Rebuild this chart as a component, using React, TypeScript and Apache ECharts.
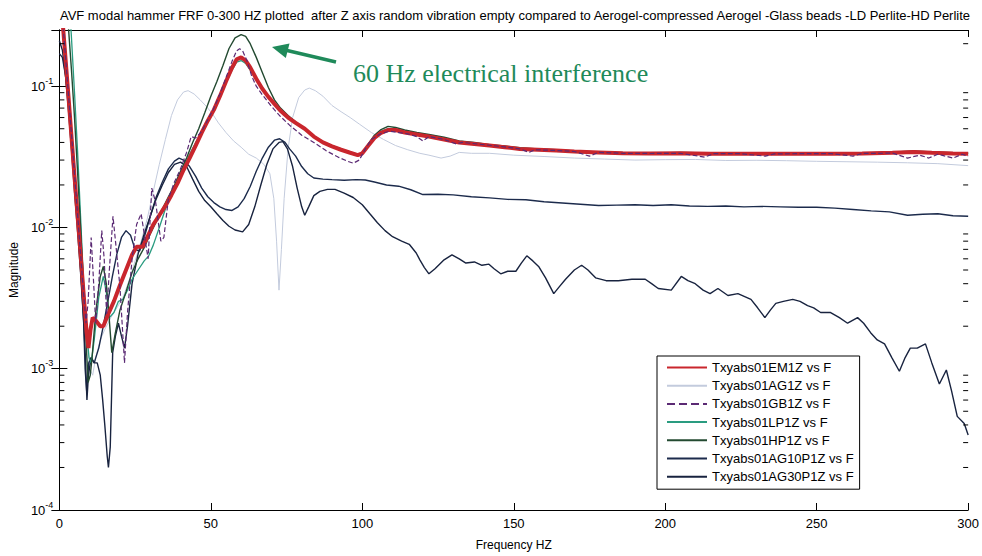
import React, { useEffect, useRef } from 'react';
import * as echarts from 'echarts';

const FONT = "'Liberation Sans', Arial, Helvetica, sans-serif";

const titleText =
  'AVF modal hammer FRF 0-300 HZ plotted  after Z axis random vibration empty compared to Aerogel-compressed Aerogel -Glass beads -LD Perlite-HD Perlite';
const annotationText = '60 Hz electrical interference';
const xName = 'Frequency HZ';
const yName = 'Magnitude';

const seriesNames = [
  'Txyabs01EM1Z vs F',
  'Txyabs01AG1Z vs F',
  'Txyabs01GB1Z vs F',
  'Txyabs01LP1Z vs F',
  'Txyabs01HP1Z vs F',
  'Txyabs01AG10P1Z vs F',
  'Txyabs01AG30P1Z vs F',
];

const xTicks = { min: 0, max: 300, interval: 50 };
const yRange = { min: 0.0001, max: 0.25 };
const minorTickValues = [
  0.0002, 0.0003, 0.0004, 0.0005, 0.0006, 0.0007, 0.0008, 0.0009,
  0.002, 0.003, 0.004, 0.005, 0.006, 0.007, 0.008, 0.009,
  0.02, 0.03, 0.04, 0.05, 0.06, 0.07, 0.08, 0.09,
  0.2,
];

const em1z: [number, number][] = [
  [0, 0.57], [1, 0.30], [2, 0.16], [3, 0.085], [4, 0.044], [5, 0.023], [6, 0.0122], [7, 0.0065], [8, 0.0034], [9, 0.0018],
  [9.6, 0.0014], [10.3, 0.0019], [11, 0.0023], [12, 0.0022], [13.5, 0.0020], [14.5, 0.0020], [16, 0.0024], [18, 0.0030],
  [20, 0.0039], [22, 0.0050], [24, 0.0064], [25.5, 0.0073], [27.5, 0.0073], [29, 0.0085], [31, 0.0105], [33, 0.0122],
  [35, 0.0142], [37, 0.0170], [39, 0.0205], [41, 0.0255], [43, 0.031], [45, 0.038], [47, 0.047], [49, 0.057], [51, 0.068],
  [53, 0.085], [55, 0.108], [57, 0.135], [58.5, 0.155], [60, 0.160], [61.5, 0.152], [63, 0.136], [65, 0.113], [67, 0.096],
  [69, 0.084], [71, 0.075], [73, 0.067], [75.5, 0.060], [78, 0.055], [81, 0.050], [84, 0.044], [87, 0.040], [90, 0.0375],
  [93, 0.0355], [96, 0.0338], [98.5, 0.0325], [100, 0.0335], [102, 0.038], [104, 0.043], [106, 0.0465], [108.5, 0.049],
  [111, 0.049], [114, 0.047], [118, 0.0455], [122, 0.044], [127, 0.042], [132, 0.040], [137, 0.039], [142, 0.038],
  [147, 0.037], [152, 0.036], [158, 0.0355], [164, 0.035], [170, 0.0345], [178, 0.034], [186, 0.0335], [195, 0.0334],
  [205, 0.0335], [215, 0.0333], [225, 0.0333], [235, 0.0332], [245, 0.0333], [255, 0.0333], [265, 0.0334], [275, 0.0338],
  [282, 0.0342], [288, 0.0338], [295, 0.0334], [300, 0.0332],
];

const ag1z: [number, number][] = [
  [0, 0.5], [1, 0.33], [2, 0.19], [3, 0.10], [4, 0.052], [5, 0.027], [6, 0.014], [7, 0.0072], [8, 0.0036], [9, 0.0018],
  [10, 0.0010], [11, 0.0009], [12, 0.0012], [13.5, 0.0016], [15, 0.0019], [17, 0.0023], [19, 0.0027], [21, 0.0032],
  [23, 0.0042], [25, 0.0058], [27, 0.0080], [29, 0.0115], [31, 0.018], [33, 0.028], [35, 0.042], [37, 0.062], [39, 0.080],
  [41, 0.091], [42.5, 0.093], [44.5, 0.088], [46.5, 0.080], [48.5, 0.072], [50.5, 0.064], [52.5, 0.055], [55, 0.047],
  [57.5, 0.041], [60, 0.037], [62.5, 0.033], [65, 0.031], [67.5, 0.028], [69.5, 0.024], [70.8, 0.016], [71.7, 0.008],
  [72.5, 0.0036], [73.3, 0.007], [74.2, 0.016], [75.5, 0.036], [77, 0.060], [79, 0.083], [81, 0.094], [82.5, 0.097],
  [84.5, 0.093], [87, 0.085], [90, 0.073], [93, 0.066], [96, 0.060], [99, 0.054], [103, 0.047], [107, 0.042], [111, 0.038],
  [115, 0.0355], [119, 0.0335], [122, 0.0325], [126, 0.031], [129, 0.032], [132, 0.034], [136, 0.0335], [142, 0.0335],
  [150, 0.0325], [160, 0.0318], [170, 0.031], [180, 0.0305], [190, 0.030], [200, 0.0302], [210, 0.0303], [220, 0.0298],
  [230, 0.0299], [240, 0.0297], [250, 0.0294], [260, 0.0292], [270, 0.029], [280, 0.0287], [290, 0.0283], [300, 0.0274],
];

const gb1z: [number, number][] = [
  [0, 0.6], [1, 0.31], [2, 0.165], [3, 0.088], [4, 0.046], [5, 0.024], [6, 0.0125], [7, 0.0065], [8, 0.0034], [8.8, 0.0021],
  [9.5, 0.0030], [10.5, 0.0085], [11.2, 0.0045], [12, 0.0021], [13, 0.0040], [14, 0.0095], [14.8, 0.0060], [15.6, 0.0024],
  [16.5, 0.0050], [17.7, 0.0120], [18.8, 0.0070], [20, 0.0038], [21.5, 0.0011], [22.5, 0.0025], [24, 0.0060], [25.5, 0.0105],
  [27, 0.0125], [28.2, 0.0085], [29.3, 0.0060], [30.5, 0.0190], [31.8, 0.0150], [33.5, 0.0080], [34.5, 0.0085], [36, 0.0160],
  [38, 0.0210], [40, 0.0260], [42, 0.034], [43.5, 0.044], [45, 0.043], [47, 0.048], [49, 0.058], [51, 0.070], [53, 0.088],
  [55, 0.115], [57, 0.150], [58.5, 0.178], [59.5, 0.184], [60.5, 0.178], [62, 0.150], [63.5, 0.118], [65, 0.100], [67, 0.087],
  [70, 0.072], [73, 0.061], [76, 0.053], [80, 0.045], [84, 0.040], [88, 0.035], [92, 0.0315], [95, 0.0295], [97, 0.0285],
  [99, 0.030], [101, 0.036], [103, 0.042], [106, 0.046], [109, 0.048], [112, 0.047], [115, 0.046], [118, 0.044], [120, 0.041],
  [122, 0.044], [127, 0.042], [131, 0.039], [133, 0.040], [138, 0.039], [143, 0.038], [148, 0.037], [152, 0.036], [155, 0.034],
  [157, 0.0355], [165, 0.035], [170, 0.0345], [175, 0.032], [178, 0.034], [186, 0.0335], [195, 0.0334], [205, 0.0335],
  [213, 0.0315], [216, 0.0333], [225, 0.0333], [233, 0.032], [236, 0.0332], [245, 0.0333], [255, 0.0333], [262, 0.032],
  [265, 0.0334], [275, 0.0336], [280, 0.031], [284, 0.0325], [287, 0.031], [290, 0.0330], [295, 0.0310], [298, 0.0330],
  [300, 0.032],
];

const lp1z: [number, number][] = [
  [0, 0.9], [2, 0.6], [3.5, 0.33], [4, 0.22], [5, 0.09], [6, 0.035], [7, 0.012], [8, 0.0040], [9, 0.0018], [9.8, 0.0012],
  [10.5, 0.0011], [11.5, 0.0016], [13, 0.0032], [14.5, 0.0045], [15.5, 0.0035], [16.5, 0.0023], [18, 0.0025], [19.5, 0.0030],
  [21, 0.0031], [22.5, 0.0036], [24, 0.0043], [26, 0.0050], [28, 0.0058], [29.5, 0.0063], [31, 0.0075], [33, 0.0100],
  [35, 0.0135], [37, 0.0175], [39, 0.0215], [41, 0.027], [43, 0.033], [45, 0.040], [47, 0.047], [49, 0.056], [51, 0.067],
  [53, 0.084], [55, 0.106], [57, 0.130], [58.5, 0.148], [60, 0.152], [61.5, 0.145], [63, 0.130], [65, 0.112], [67, 0.097],
  [70, 0.080], [72.5, 0.069], [75, 0.062], [78, 0.055], [81, 0.050], [84, 0.044], [87, 0.040], [90, 0.0375], [93, 0.0355],
  [96, 0.0338], [99, 0.0330], [100.5, 0.034], [102, 0.038], [104, 0.044], [106, 0.048], [108.5, 0.050], [111, 0.049],
  [114, 0.047], [118, 0.0455], [122, 0.044], [127, 0.0423], [132, 0.040], [137, 0.0393], [142, 0.038], [147, 0.0372],
  [152, 0.0362], [158, 0.0357], [164, 0.035], [170, 0.0346], [178, 0.034], [186, 0.0336], [195, 0.0335], [205, 0.0337],
  [215, 0.0335], [225, 0.0334], [235, 0.0333], [245, 0.0334], [255, 0.0335], [265, 0.0336], [275, 0.0338], [282, 0.0344],
  [288, 0.034], [295, 0.0336], [300, 0.0334],
];

const hp1z: [number, number][] = [
  [0, 0.8], [1, 0.6], [2, 0.4], [3, 0.26], [4, 0.13], [5, 0.06], [6, 0.025], [7, 0.010], [8, 0.0038], [9, 0.0013],
  [9.5, 0.0008], [10.2, 0.0009], [10.8, 0.0012], [12, 0.0025], [13.5, 0.0045], [14.5, 0.0053], [15.5, 0.0040], [16.5, 0.0022],
  [17.3, 0.0013], [18.5, 0.0018], [20, 0.0026], [22, 0.0035], [24, 0.0048], [26, 0.0060], [28, 0.0072], [30, 0.0090],
  [32, 0.0110], [34, 0.0135], [36, 0.0165], [38, 0.020], [40, 0.025], [42, 0.031], [44, 0.040], [46, 0.050], [48, 0.065],
  [50, 0.085], [52, 0.108], [54, 0.140], [56, 0.185], [58, 0.220], [60, 0.232], [61.5, 0.225], [63, 0.200], [65, 0.160],
  [67, 0.125], [69, 0.098], [71, 0.080], [73, 0.070], [75.5, 0.062], [78, 0.056], [81, 0.050], [84, 0.0445], [87, 0.0405],
  [90, 0.038], [93, 0.036], [96, 0.034], [99, 0.0328], [100.5, 0.0345], [102, 0.039], [104, 0.045], [106, 0.049],
  [108.5, 0.052], [111, 0.051], [114, 0.049], [118, 0.047], [122, 0.0455], [127, 0.0435], [132, 0.041], [137, 0.040],
  [142, 0.0385], [147, 0.0377], [152, 0.0367], [158, 0.036], [164, 0.0355], [170, 0.0348], [178, 0.0343], [186, 0.0338],
  [195, 0.0336], [205, 0.034], [215, 0.0337], [225, 0.0336], [235, 0.0335], [245, 0.0337], [255, 0.0338], [265, 0.0337],
  [275, 0.0341], [282, 0.0348], [288, 0.0342], [295, 0.0338], [300, 0.0336],
];

const ag10p1z: [number, number][] = [
  [0, 0.17], [1, 0.16], [2, 0.12], [3, 0.075], [4, 0.040], [5, 0.021], [6, 0.011], [7, 0.0052], [8, 0.0022], [8.5, 0.0010],
  [9, 0.0007], [9.7, 0.0011], [10.5, 0.0012], [11.5, 0.0011], [13, 0.0014], [14.5, 0.0020], [16, 0.0030], [17.5, 0.0045],
  [19, 0.0065], [20.5, 0.0085], [22, 0.0095], [23.5, 0.0088], [25, 0.0070], [26.5, 0.0068], [28, 0.0085], [30, 0.0120],
  [32, 0.0165], [34, 0.021], [36, 0.026], [38, 0.0295], [39.5, 0.031], [41, 0.030], [43, 0.027], [45, 0.023], [47, 0.019],
  [49, 0.0165], [51, 0.0150], [53, 0.0140], [55, 0.0134], [57, 0.0132], [59, 0.0140], [61, 0.0160], [63, 0.0195],
  [65, 0.025], [67, 0.031], [69, 0.037], [71, 0.0415], [72.7, 0.0425], [74.5, 0.040], [76, 0.036], [78, 0.032], [80, 0.027],
  [82, 0.024], [84, 0.0224], [87, 0.0220], [90, 0.0218], [94, 0.0216], [98, 0.0218], [101, 0.0217], [104, 0.0210],
  [108, 0.0200], [112, 0.0196], [116, 0.0185], [120, 0.0171], [125, 0.0172], [130, 0.0170], [136, 0.0165], [142, 0.0162],
  [148, 0.0158], [154, 0.0157], [160, 0.0152], [166, 0.0149], [172, 0.0146], [178, 0.0143], [184, 0.0144], [190, 0.0145],
  [196, 0.0143], [202, 0.0145], [208, 0.0142], [214, 0.0141], [220, 0.0142], [226, 0.0140], [232, 0.0141], [238, 0.0140],
  [244, 0.0139], [250, 0.0139], [256, 0.0137], [262, 0.0134], [268, 0.0131], [274, 0.0129], [280, 0.0122], [285, 0.0124],
  [290, 0.0125], [295, 0.0121], [300, 0.0120],
];

const ag30p1z: [number, number][] = [
  [0, 0.21], [1, 0.18], [2, 0.12], [3, 0.068], [4, 0.036], [5, 0.018], [6, 0.0095], [7, 0.0048], [8, 0.0022], [8.6, 0.0012],
  [9.1, 0.0006], [9.6, 0.0009], [10.5, 0.0012], [11.5, 0.0011], [12.5, 0.0011], [13.5, 0.0009], [14.3, 0.0006], [15, 0.0004],
  [15.8, 0.00024], [16.2, 0.0002], [16.8, 0.00028], [17.2, 0.0006], [17.6, 0.0013], [18.5, 0.0017], [19.5, 0.0021],
  [20.5, 0.0017], [21.5, 0.0014], [22.5, 0.0020], [24, 0.0040], [26, 0.0065], [28, 0.0090], [30, 0.0120], [32, 0.0160],
  [34, 0.0200], [36, 0.0245], [38, 0.028], [40, 0.029], [42, 0.027], [44, 0.022], [46, 0.018], [48, 0.0155], [50, 0.0140],
  [52, 0.0125], [54, 0.0112], [56, 0.0102], [58, 0.0096], [60.5, 0.0093], [62.5, 0.0105], [64.5, 0.0140], [66.5, 0.020],
  [68.5, 0.028], [70.5, 0.036], [72.5, 0.040], [73.8, 0.0405], [75.3, 0.036], [77, 0.027], [78.5, 0.019], [80, 0.014],
  [81, 0.0122], [82.3, 0.0140], [84, 0.0168], [86, 0.0180], [88.5, 0.0186], [91, 0.0186], [94, 0.0175], [97, 0.0163],
  [100, 0.0145], [102.5, 0.0125], [105, 0.0108], [107.5, 0.0095], [110, 0.0086], [113, 0.0080], [115.5, 0.0076],
  [117.8, 0.0066], [119, 0.0059], [120.5, 0.0052], [122, 0.0047], [124, 0.0051], [127, 0.0059], [129.6, 0.0064],
  [132, 0.0060], [134.2, 0.0056], [137, 0.0057], [139.5, 0.0054], [141.8, 0.0055], [143.5, 0.0051], [145.7, 0.0047],
  [148, 0.0049], [150.7, 0.0049], [152.5, 0.0056], [154.3, 0.0063], [156.3, 0.0058], [158.2, 0.0053], [160.5, 0.0044],
  [163.2, 0.0034], [165, 0.0038], [167.1, 0.0043], [170, 0.0050], [172.4, 0.0054], [174.5, 0.0050], [177, 0.0044],
  [180.5, 0.0042], [184.5, 0.0042], [189, 0.0043], [193.4, 0.0043], [195.5, 0.0040], [197.7, 0.0037], [202, 0.0036],
  [205.3, 0.0045], [207.5, 0.0042], [209.9, 0.0040], [212.5, 0.0036], [214.8, 0.0034], [217.4, 0.0037], [220.7, 0.0033],
  [224, 0.0034], [228.3, 0.0031], [230.5, 0.0027], [232.9, 0.0023], [234.7, 0.0026], [236.5, 0.0029], [239, 0.0030],
  [242.1, 0.0031], [244.5, 0.0030], [247, 0.0028], [249, 0.0027], [251.3, 0.0025], [254.6, 0.0025], [257.5, 0.0023],
  [260.2, 0.0021], [263.5, 0.0023], [265.5, 0.0021], [267.8, 0.0018], [270, 0.0016], [272.4, 0.0015], [274.8, 0.0012],
  [277.3, 0.00096], [279.2, 0.0012], [280.9, 0.0014], [283.2, 0.0014], [285.9, 0.0015], [288, 0.0011], [290.5, 0.00078],
  [292.8, 0.00098], [294.5, 0.0007], [296.4, 0.00046], [298.7, 0.00041], [300, 0.00034],
];

const seriesData = [em1z, ag1z, gb1z, lp1z, hp1z, ag10p1z, ag30p1z];
const seriesColors = ['#c9262d', '#c3cbdd', '#5b2a74', '#2a9c80', '#234a31', '#1c2b4c', '#18233f'];
const seriesWidths = [4, 1, 1.2, 1.3, 1.4, 1.4, 1.4];
const seriesDash = ['solid', 'solid', 'dashed', 'solid', 'solid', 'solid', 'solid'];
const seriesZ = [6, 2, 7, 4, 5, 3, 3];

function yLabel(v: number): string {
  const l = Math.log10(v);
  const e = Math.round(l);
  if (Math.abs(l - e) > 1e-6) return '';
  return `{b|10}{s|${e}}`;
}

export default function App() {
  const ref = useRef<HTMLDivElement>(null);
  useEffect(() => {
    if (!ref.current) return;
    const chart = echarts.init(ref.current, null, { renderer: 'svg' });
    const axisLine = { show: true, lineStyle: { color: '#000', width: 1 } };
    const lineSeries = seriesNames.map((name, i) => ({
      type: 'line',
      name,
      data: seriesData[i],
      symbol: 'none',
      showSymbol: false,
      z: seriesZ[i],
      lineStyle: { color: seriesColors[i], width: seriesWidths[i], type: seriesDash[i] },
      itemStyle: { color: seriesColors[i] },
      emphasis: { disabled: true },
    }));
    const option: any = {
      animation: false,
      backgroundColor: '#fff',
      textStyle: { fontFamily: FONT },
      grid: { left: 59, right: 11, top: 30, bottom: 38, containLabel: false },
      legend: {
        data: seriesNames.map((name) => ({ name, itemStyle: { opacity: 0 } })),
        orient: 'vertical',
        left: 657,
        top: 356,
        itemWidth: 40,
        itemHeight: 14,
        itemGap: 5.2,
        padding: [5, 6, 6, 9],
        borderColor: '#000',
        borderWidth: 1,
        backgroundColor: '#fff',
        selectedMode: false,
        itemStyle: { opacity: 0, borderWidth: 0 },
        textStyle: { fontSize: 13, fontFamily: FONT, color: '#000' },
      },
      xAxis: [
        {
          type: 'value',
          ...xTicks,
          position: 'bottom',
          axisLine,
          axisTick: { show: true, inside: true, length: 7, lineStyle: { color: '#000' } },
          axisLabel: { fontSize: 13, color: '#000', margin: 7, fontFamily: FONT },
          splitLine: { show: false },
          name: xName,
          nameLocation: 'middle',
          nameGap: 29,
          nameTextStyle: { fontSize: 12, color: '#000', fontFamily: FONT },
        },
        {
          type: 'value',
          ...xTicks,
          position: 'top',
          axisLine,
          axisTick: { show: true, inside: true, length: 7, lineStyle: { color: '#000' } },
          axisLabel: { show: false },
          splitLine: { show: false },
        },
      ],
      yAxis: [
        {
          type: 'log',
          logBase: 10,
          ...yRange,
          position: 'left',
          axisLine,
          axisTick: { show: true, inside: true, length: 8, lineStyle: { color: '#000' } },
          axisLabel: {
            formatter: yLabel,
            margin: 6,
            color: '#000',
            rich: {
              b: { fontSize: 13, fontFamily: FONT, color: '#000', lineHeight: 20 },
              s: { fontSize: 9, fontFamily: FONT, color: '#000', lineHeight: 10, verticalAlign: 'top' },
            },
          },
          splitLine: { show: false },
          name: yName,
          nameLocation: 'middle',
          nameGap: 35,
          nameTextStyle: { fontSize: 12, color: '#000', fontFamily: FONT },
        },
        {
          type: 'log',
          logBase: 10,
          ...yRange,
          position: 'right',
          axisLine,
          axisTick: { show: true, inside: true, length: 8, lineStyle: { color: '#000' } },
          axisLabel: { show: false },
          splitLine: { show: false },
        },
      ],
      series: [
        ...lineSeries,
        {
          type: 'custom',
          name: 'minorTicks',
          silent: true,
          clip: false,
          z: 10,
          data: minorTickValues.map((v) => [xTicks.min, v]),
          encode: { x: 0, y: 1 },
          renderItem: (_p: any, api: any) => {
            const v = api.value(1);
            const l = api.coord([xTicks.min, v]);
            const r = api.coord([xTicks.max, v]);
            const st = { stroke: '#000', lineWidth: 1 };
            return {
              type: 'group',
              children: [
                { type: 'line', shape: { x1: l[0], y1: l[1], x2: l[0] + 5, y2: l[1] }, style: st },
                { type: 'line', shape: { x1: r[0] - 5, y1: r[1], x2: r[0], y2: r[1] }, style: st },
              ],
            };
          },
        },
      ],
      graphic: [
        {
          type: 'text',
          x: 515,
          y: 15,
          style: {
            text: titleText,
            fill: '#000',
            font: `13px ${FONT}`,
            textAlign: 'center',
            textVerticalAlign: 'middle',
          },
        },
        {
          type: 'text',
          x: 353,
          y: 73,
          style: {
            text: annotationText,
            fill: '#1f8a5a',
            font: `26px 'Liberation Serif', 'Times New Roman', serif`,
            textAlign: 'left',
            textVerticalAlign: 'middle',
          },
        },
        {
          type: 'line',
          shape: { x1: 336, y1: 62, x2: 285, y2: 50 },
          style: { stroke: '#1f8a5a', lineWidth: 3.5 },
        },
        {
          type: 'polygon',
          shape: { points: [[272, 47], [289.5, 43.5], [285.8, 58]] },
          style: { fill: '#1f8a5a' },
        },
      ],
    };
    chart.setOption(option);
    return () => chart.dispose();
  }, []);
  return <div ref={ref} style={{ position: 'fixed', left: 0, top: 0, width: 982, height: 556 }} />;
}
